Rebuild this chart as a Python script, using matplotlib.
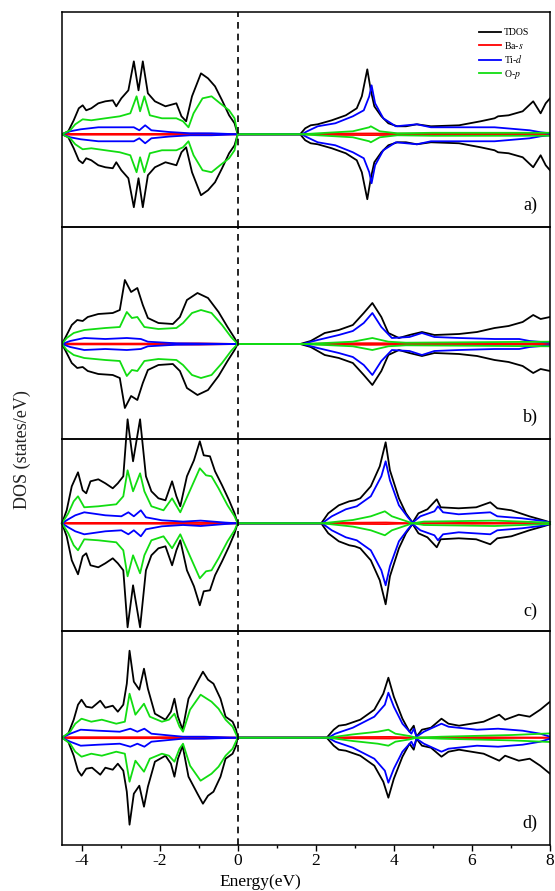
import matplotlib.pyplot as plt
from matplotlib.ticker import MultipleLocator

plt.rcParams['font.family'] = ['Liberation Serif', 'DejaVu Serif']
plt.rcParams['mathtext.fontset'] = 'stix'
plt.rcParams['axes.unicode_minus'] = False

# DOS values (arbitrary units), spin up; spin down is mirrored
# ---- panel a ----
a_tdos_e = [-4.5, -4.34, -4.2, -4.07, -3.97, -3.88, -3.75, -3.57, -3.39, -3.2, -3.11, -2.98, -2.8,
            -2.66, -2.54, -2.43, -2.3, -2.12, -1.85, -1.57, -1.44, -1.32, -1.17, -0.94, -0.76, -0.58,
            -0.4, -0.22, -0.08, 0,
            1.6, 1.73, 1.87, 2.05, 2.41, 2.77, 3.05, 3.18, 3.32, 3.41, 3.5, 3.68, 3.86, 4.09, 4.31,
            4.59, 4.95, 5.67, 6.22, 6.58, 6.67, 6.94, 7.3, 7.57, 7.76, 7.89, 8.0]
a_tdos = [0, 3, 14, 26, 29, 24, 26, 31, 33, 34, 28, 36, 44, 73, 44, 73, 41, 33, 28, 31, 18, 13, 38,
          61, 56, 48, 34, 19, 11, 0,
          0, 6, 9, 10, 14, 19, 26, 38, 65, 44, 28, 18, 11, 8, 8, 10, 8, 9, 13, 16, 18, 19, 23, 33,
          21, 31, 36]
a_op_e = [-4.5, -4.29, -4.16, -3.97, -3.75, -3.39, -3.02, -2.75, -2.59, -2.5, -2.39, -2.25, -1.94,
          -1.57, -1.4, -1.26, -1.13, -0.9, -0.67, -0.45, -0.22, -0.08, 0,
          1.64, 2.05, 2.95, 3.37, 3.41, 3.64, 4.09, 5.0, 8.0]
a_op = [0, 4, 10, 15, 14, 16, 18, 21, 38, 23, 38, 19, 16, 16, 13, 7, 21, 36, 38, 31, 24, 16, 0,
        0, 1, 3, 7, 8, 3, 1, 1.5, 1.5]
a_tid_e = [-4.5, -4.29, -4.02, -3.57, -3.02, -2.66, -2.52, -2.37, -2.21, -1.76, -1.22, -0.67, 0,
           1.64, 1.78, 2.05, 2.5, 2.95, 3.23, 3.37, 3.43, 3.52, 3.73, 4.05, 4.59, 4.95, 5.67, 6.58,
           7.48, 7.76, 8.0]
a_tid = [0, 3, 5, 7, 7, 7, 4, 9, 4, 2.3, 1, 1, 0,
         0, 3, 8, 11, 18, 24, 38, 49, 31, 16, 8, 10, 7, 7, 7, 4, 2, 1]
a_bas_e = [-4.5, -4.3, -2.0, -1.0, 0, 1.64, 2.5, 3.4, 4.5, 7.8, 8.0]
a_bas = [0, 0.4, 0.4, 0.6, 0, 0, 0.6, 0.8, 0.5, 0.5, 0]

# ---- panel b ----
b_tdos_e = [-4.5, -4.38, -4.25, -4.11, -3.97, -3.84, -3.57, -3.2, -3.02, -2.89, -2.73, -2.57, -2.43,
            -2.3, -2.03, -1.66, -1.48, -1.3, -1.03, -0.76, -0.49, -0.26, -0.08, 0,
            1.6, 1.87, 2.23, 2.59, 2.95, 3.23, 3.45, 3.68, 3.86, 4.13, 4.4, 4.72, 5.04, 5.67, 6.13,
            6.58, 6.94, 7.3, 7.57, 7.76, 8.0]
b_tdos = [0, 9, 19, 24, 23, 27, 30, 31, 34, 64, 52, 56, 39, 26, 21, 20, 27, 44, 51, 46, 32, 17, 6, 0,
          0, 3, 11, 14, 19, 31, 41, 27, 11, 6, 9, 12, 9, 10, 12, 16, 18, 22, 29, 25, 27]
b_op_e = [-4.5, -4.38, -4.2, -3.93, -3.39, -3.02, -2.84, -2.71, -2.57, -2.39, -2.03, -1.57, -1.4,
          -1.17, -0.94, -0.67, -0.4, -0.17, 0,
          1.7, 2.95, 3.45, 3.86, 4.31, 8.0]
b_op = [0, 6, 11, 14, 16, 17, 32, 26, 27, 17, 15, 16, 21, 31, 34, 31, 19, 7, 0,
        0, 2.3, 6, 2.3, 1.3, 2.3]
b_tid_e = [-4.5, -4.29, -3.93, -3.39, -2.84, -2.48, -2.3, -1.57, 0,
           1.66, 2.05, 2.59, 2.95, 3.23, 3.45, 3.68, 3.95, 4.4, 4.72, 5.04, 5.67, 6.58, 7.21, 7.48,
           8.0]
b_tid = [0, 3, 6, 5, 6, 5, 2.3, 0.7, 0,
         0, 4, 9, 13, 21, 31, 17, 6, 7, 11, 7, 6, 5, 5, 3, 1.3]
b_bas_e = [-4.5, -4.3, -2.0, -1.0, 0, 1.66, 2.5, 3.4, 4.5, 7.8, 8.0]
b_bas = [0, 0.4, 0.4, 0.6, 0, 0, 0.6, 0.8, 0.5, 0.5, 0]

# ---- panel c ----
c_tdos_e = [-4.5, -4.38, -4.25, -4.09, -3.97, -3.88, -3.77, -3.57, -3.39, -3.2, -3.07, -2.93, -2.82,
            -2.68, -2.5, -2.35, -2.21, -2.03, -1.85, -1.68, -1.57, -1.47, -1.3, -1.12, -0.97, -0.87,
            -0.71, -0.58, -0.4, -0.22, -0.08, 0,
            2.14, 2.32, 2.59, 2.86, 3.0, 3.14, 3.41, 3.64, 3.79, 3.9, 4.13, 4.31, 4.48, 4.63, 4.86,
            5.1, 5.2, 5.66, 6.11, 6.47, 6.65, 7.01, 7.47, 7.83, 8.0]
c_tdos = [0, 13, 37, 51, 33, 30, 42, 44, 40, 35, 40, 47, 104, 62, 104, 47, 32, 25, 23, 42, 27, 17,
          47, 63, 82, 68, 67, 52, 38, 23, 10, 0,
          0, 10, 18, 22, 23, 25, 37, 57, 81, 53, 25, 10, 0.7, 10, 14, 24, 16, 15, 16, 21, 15, 13, 7,
          3, 1]
c_op_e = [-4.5, -4.34, -4.2, -4.09, -3.93, -3.57, -3.11, -2.93, -2.82, -2.68, -2.5, -2.39, -2.21,
          -1.9, -1.68, -1.47, -1.22, -0.97, -0.81, -0.67, -0.49, -0.26, -0.08, 0,
          2.16, 2.95, 3.41, 3.77, 3.95, 4.48, 4.77, 6.58, 8.0]
c_op = [0, 10, 22, 27, 16, 17, 19, 27, 53, 32, 50, 32, 17, 13, 25, 11, 33, 55, 48, 47, 35, 18, 7, 0,
        0, 3.3, 7, 12, 7, 0, 1.7, 2.7, 0.7]
c_tid_e = [-4.5, -4.34, -4.16, -3.93, -3.39, -2.98, -2.8, -2.66, -2.48, -2.35, -1.94, -1.4, -0.95,
           -0.31, 0,
           2.16, 2.41, 2.77, 3.05, 3.41, 3.68, 3.79, 3.9, 4.13, 4.36, 4.48, 4.68, 5.04, 5.13, 5.26,
           5.66, 6.47, 6.65, 7.28, 7.83, 8.0]
c_tid = [0, 4, 8, 11, 8, 7, 11, 7, 13, 6, 3, 1.7, 2.7, 0.7, 0,
         0, 7, 14, 17, 27, 47, 62, 43, 18, 6, 0.7, 7, 12, 17, 11, 9, 11, 7, 5, 2.3, 0.7]
c_bas_e = [-4.5, -4.3, -2.0, -1.0, 0, 2.16, 3.0, 3.8, 4.48, 6.0, 8.0]
c_bas = [0, 0.4, 0.4, 0.8, 0, 0, 0.6, 0.8, 0, 0.5, 0]

# ---- panel d ----
d_tdos_e = [-4.5, -4.34, -4.2, -4.09, -4.0, -3.88, -3.73, -3.52, -3.39, -3.2, -3.07, -2.93, -2.84,
            -2.77, -2.66, -2.52, -2.4, -2.3, -2.12, -1.85, -1.71, -1.62, -1.53, -1.41, -1.26, -1.03,
            -0.89, -0.76, -0.62, -0.44, -0.31, -0.13, -0.04, 0,
            2.28, 2.46, 2.59, 2.77, 3.14, 3.5, 3.73, 3.86, 4.0, 4.22, 4.4, 4.51, 4.58, 4.72, 4.95,
            5.22, 5.4, 5.67, 6.3, 6.7, 6.85, 7.2, 7.48, 7.75, 8.0]
d_tdos = [0, 4, 18, 33, 38, 31, 30, 37, 30, 32, 26, 33, 54, 87, 56, 48, 69, 49, 24, 18, 26, 39, 21,
          8, 39, 56, 66, 58, 54, 39, 21, 16, 8, 0,
          0, 8, 12, 13, 18, 28, 44, 60, 41, 19, 6, 12, 1, 8, 10, 19, 14, 12, 16, 23, 18, 23, 21, 28,
          36]
d_op_e = [-4.5, -4.29, -4.16, -4.0, -3.75, -3.48, -3.11, -2.89, -2.77, -2.62, -2.4, -2.25, -1.94,
          -1.76, -1.62, -1.49, -1.4, -1.22, -0.95, -0.67, -0.49, -0.31, -0.13, 0,
          2.32, 2.95, 3.59, 3.86, 4.04, 4.4, 4.58, 5.22, 7.03, 8.0]
d_op = [0, 6, 14, 19, 16, 18, 14, 16, 44, 23, 34, 21, 16, 18, 24, 11, 6, 28, 43, 36, 29, 18, 11, 0,
        0, 3.3, 6, 8, 4, 1.7, 0, 1, 2.7, 4.3]
d_tid_e = [-4.5, -4.29, -4.02, -3.57, -3.02, -2.75, -2.57, -2.39, -2.21, -1.76, -1.4, -0.86, 0,
           2.32, 2.5, 2.95, 3.5, 3.77, 3.86, 4.0, 4.22, 4.45, 4.51, 4.58, 4.77, 5.22, 5.4, 6.13,
           6.67, 7.3, 7.75, 8.0]
d_tid = [0, 4, 8, 7, 6, 9, 6, 9, 4, 2.3, 1, 1, 0,
         0, 4, 10, 21, 33, 45, 31, 14, 4, 9, 1, 6, 14, 11, 8, 9, 7, 4, 1]
d_bas_e = [-4.5, -4.3, -2.0, -1.0, 0, 2.32, 3.0, 3.9, 4.58, 6.0, 8.0]
d_bas = [0, 0.5, 0.5, 0.7, 0, 0, 0.6, 0.8, 0, 0.5, 0]

labels = ['TDOS', 'Ba-$\\mathit{s}$', 'Ti-$\\mathit{d}$', 'O-$\\mathit{p}$']
colors = ['black', '#ff0000', '#0000ff', '#11dd11']
panel_names = ['a)', 'b)', 'c)', 'd)']
panel_data = [
    [(a_tdos_e, a_tdos), (a_bas_e, a_bas), (a_tid_e, a_tid), (a_op_e, a_op)],
    [(b_tdos_e, b_tdos), (b_bas_e, b_bas), (b_tid_e, b_tid), (b_op_e, b_op)],
    [(c_tdos_e, c_tdos), (c_bas_e, c_bas), (c_tid_e, c_tid), (c_op_e, c_op)],
    [(d_tdos_e, d_tdos), (d_bas_e, d_bas), (d_tid_e, d_tid), (d_op_e, d_op)],
]
ylims = [(-92.3, 122), (-95, 117.5), (-107.7, 84.3), (-107.3, 106.7)]

W, H = 555, 891
edges = [12.4, 226.5, 439, 631, 845]
x0, x1 = 62, 550

fig = plt.figure(figsize=(W / 100, H / 100), dpi=100)
axes = []
for i in range(4):
    top, bot = edges[i], edges[i + 1]
    ax = fig.add_axes([x0 / W, 1 - bot / H, (x1 - x0) / W, (bot - top) / H])
    ax.patch.set_alpha(0)
    axes.append(ax)
    for (e, v), col, lab in zip(panel_data[i], colors, labels):
        ax.plot(e, v, color=col, lw=1.3, label=lab, clip_on=(i != 2))
        ax.plot(e, [-y for y in v], color=col, lw=1.3, clip_on=(i != 2))
    ax.axvline(0, color='black', lw=1.2, ls=(0, (4, 3)))
    ax.set_xlim(-4.5, 8)
    ax.set_ylim(*ylims[i])
    ax.set_yticks([])
    for s in ax.spines.values():
        s.set_linewidth(1.1)
    ax.text(0.975, 0.1, panel_names[i], transform=ax.transAxes, ha='right', va='center',
            fontsize=13)
    if i < 3:
        ax.set_xticks([])
    else:
        ax.xaxis.set_major_locator(MultipleLocator(2))
        ax.xaxis.set_minor_locator(MultipleLocator(1))
        ax.tick_params(axis='x', which='major', direction='out', length=4, width=1, labelsize=12.5,
                       pad=2)
        ax.tick_params(axis='x', which='minor', direction='out', length=2.5, width=1)

axes[0].legend(loc='upper left', bbox_to_anchor=(0.8545, 0.925), frameon=False, fontsize=7,
               handlelength=2.3, handletextpad=0.3, labelspacing=0.25, borderpad=0,
               borderaxespad=0)

fig.text(22 / W, 1 - 450 / H, 'DOS (states/eV)', rotation=90, ha='center', va='center',
         fontsize=13, color='#222222')
fig.text(260 / W, 1 - 882 / H, 'Energy(eV)', ha='center', va='center', fontsize=12.5)

fig.savefig('out.png', dpi=100)
